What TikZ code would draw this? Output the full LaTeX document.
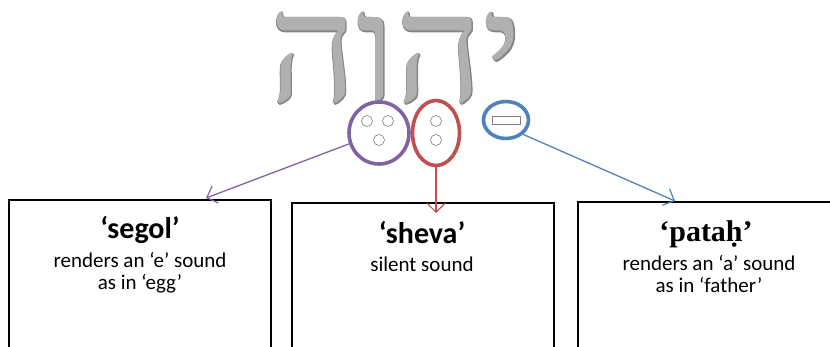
\documentclass[tikz,border=0pt]{standalone}
\usepackage{fontspec}
\setmainfont{Carlito}
\newfontfamily\hebfont[Script=Hebrew]{Liberation Serif}
\newfontfamily\hebouter[Script=Hebrew,FakeBold=1.2]{Liberation Serif}
\newfontfamily\serifface{Liberation Serif}
\TeXXeTstate=1
\usetikzlibrary{arrows.meta,shapes.geometric}
\definecolor{vpurple}{HTML}{8064A2}
\definecolor{vred}{HTML}{C0504D}
\definecolor{vblue}{HTML}{4F81BD}
\definecolor{letgray}{HTML}{B0B0B0}
\definecolor{letedge}{HTML}{858585}
\tikzset{
  box/.style={draw=black, line width=1.6pt, minimum width=262pt, minimum height=240pt, inner sep=0pt},
  ttl/.style={font=\bfseries\fontsize{30}{32}\selectfont, inner sep=0pt},
  desc/.style={font=\fontsize{21}{22}\selectfont, align=center, inner sep=0pt},
  dot/.style={circle, draw=gray, line width=0.6pt, minimum size=11pt, inner sep=0pt},
  vowel/.style={ellipse, line width=3.6pt, inner sep=0pt},
  conn/.style={line width=1.3pt, -{Straight Barb[length=9pt,width=18pt,line width=1.2pt]}},
  hebstyle/.style={inner sep=0pt, anchor=base}
}
\begin{document}
\begin{tikzpicture}[x=1pt,y=-1pt]
\useasboundingbox (0,0) rectangle (830,347);
\clip (0,0) rectangle (830,347);
% Hebrew name: darker emboldened copy under a lighter copy gives an outline
\node[hebstyle, text=letedge] (hebedge) at (396,102)
  {\hebouter\fontsize{152}{152}\selectfont\beginR יהוה\endR};
\node[hebstyle, text=letgray] (heb) at (396,102)
  {\hebfont\fontsize{152}{152}\selectfont\beginR יהוה\endR};
% boxes
\node[box] (b1) at (140,320) {};
\node[box] (b2) at (423,323) {};
\node[box] (b3) at (709,322) {};
% vowel signs
\node[vowel, draw=vpurple, minimum width=60pt, minimum height=62pt] (c1) at (379,133) {};
\node[dot] (d11) at (367,121) {};
\node[dot] (d12) at (388,121) {};
\node[dot] (d13) at (379,140) {};
\node[vowel, draw=vred, minimum width=47pt, minimum height=65pt] (c2) at (436,133) {};
\node[dot] (d21) at (436,121) {};
\node[dot] (d22) at (436,140) {};
\node[vowel, draw=vblue, minimum width=45pt, minimum height=37pt] (c3) at (506,120) {};
\node[draw=gray, line width=0.6pt, minimum width=28pt, minimum height=8pt, inner sep=0pt] (bar) at (506,120) {};
% arrow ends
\coordinate (e1) at (206,198);
\coordinate (e2) at (436,213);
\coordinate (e3) at (675,201);
\draw[conn, vpurple] (c1.200) -- (e1);
\draw[conn, vred] (c2.south) -- (e2);
\draw[conn, vblue] (c3.-40) -- (e3);
% texts
\node[ttl] (t1) at (140,230) {‘segol’};
\node[desc] (s1) at (140,273) {renders an ‘e’ sound\\as in ‘egg’};
\node[ttl] (t2) at (422,233) {‘sheva’};
\node[desc] (s2) at (422,264) {silent sound};
\node[ttl, font=\serifface\bfseries\fontsize{30}{32}\selectfont] (t3) at (706,234) {‘pataḥ’};
\node[desc] (s3) at (709,274) {renders an ‘a’ sound\\as in ‘father’};
\end{tikzpicture}
\end{document}
